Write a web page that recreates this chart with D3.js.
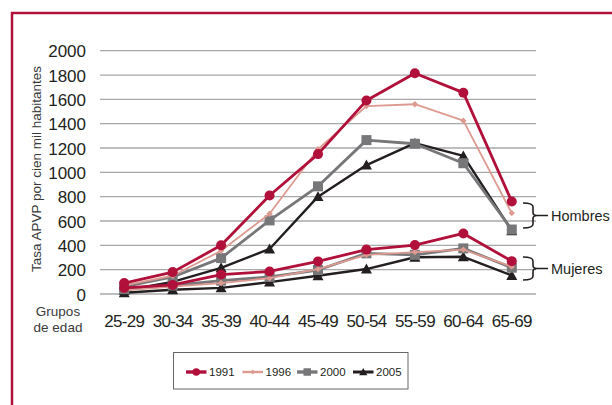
<!DOCTYPE html>
<html lang="es">
<head>
<meta charset="UTF-8">
<title>Tasa APVP por grupos de edad</title>
<script src="https://d3js.org/d3.v7.min.js"></script>
<style>
  body { margin: 0; background: #fff; }
  svg { display: block; font-family: "Liberation Sans", Arial, sans-serif; }
</style>
</head>
<body>
<svg width="612" height="405"></svg>
<script>
// --- data ---
const ageGroups = ["25-29", "30-34", "35-39", "40-44", "45-49", "50-54", "55-59", "60-64", "65-69"];
const yTicks = [0, 200, 400, 600, 800, 1000, 1200, 1400, 1600, 1800, 2000];
const years = ["1991", "1996", "2000", "2005"];

const men1991 = [90, 180, 400, 810, 1150, 1590, 1815, 1655, 760];
const men1996 = [70, 150, 355, 660, 1190, 1545, 1560, 1425, 665];
const men2000 = [60, 140, 295, 605, 885, 1265, 1235, 1075, 530];
const men2005 = [30, 100, 215, 370, 800, 1060, 1240, 1135, 520];

const women1991 = [50, 75, 160, 185, 268, 365, 402, 498, 270];
const women1996 = [30, 60, 90, 130, 205, 322, 345, 365, 225];
const women2000 = [40, 70, 110, 140, 197, 334, 322, 375, 216];
const women2005 = [10, 35, 50, 98, 150, 205, 302, 306, 152];

const svg = d3.select("svg");

// frame
svg.append("rect")
  .attr("x", 12).attr("y", 13)
  .attr("width", 640).attr("height", 420)
  .attr("fill", "none")
  .attr("stroke", "#b0103a")
  .attr("stroke-width", 2.5);

const plotLeft = 100, plotRight = 536, plotTop = 50.7, plotBottom = 294;

const x = d3.scaleBand().domain(ageGroups).range([plotLeft, plotRight]);
const y = d3.scaleLinear().domain([0, 2000]).range([plotBottom, plotTop]);
const cx = d => x(d) + x.bandwidth() / 2;

// gridlines
svg.append("g")
  .selectAll("line")
  .data(yTicks)
  .join("line")
  .attr("x1", plotLeft).attr("x2", plotRight)
  .attr("y1", d => y(d)).attr("y2", d => y(d))
  .attr("stroke", "#a8a8ab")
  .attr("stroke-width", 1.3);

// y axis labels
const yAxis = svg.append("g")
  .attr("transform", `translate(${plotLeft - 14},0)`)
  .call(d3.axisLeft(y).tickValues(yTicks).tickFormat(d3.format("d")).tickSize(0).tickPadding(0));
yAxis.select(".domain").remove();
yAxis.selectAll("text")
  .attr("font-size", 17)
  .attr("font-family", "Liberation Sans, Arial, sans-serif")
  .attr("fill", "#231f20")
  .attr("dy", "0.36em");

// x axis labels
const xAxis = svg.append("g")
  .attr("transform", `translate(0,${plotBottom})`)
  .call(d3.axisBottom(x).tickSize(0).tickPadding(0));
xAxis.select(".domain").remove();
xAxis.selectAll("text")
  .attr("font-size", 17)
  .attr("font-family", "Liberation Sans, Arial, sans-serif")
  .attr("fill", "#231f20")
  .attr("letter-spacing", "-0.7")
  .attr("y", 33)
  .attr("dy", 0);

// axis titles
svg.append("text")
  .attr("transform", `translate(41,169) rotate(-90)`)
  .attr("text-anchor", "middle")
  .attr("font-size", 13.5)
  .attr("fill", "#3a3a3a")
  .text("Tasa APVP por cien mil habitantes");

const grp = svg.append("text")
  .attr("text-anchor", "middle")
  .attr("font-size", 13.5)
  .attr("fill", "#3a3a3a");
grp.append("tspan").attr("x", 58).attr("y", 316).text("Grupos");
grp.append("tspan").attr("x", 58).attr("y", 332).text("de edad");

// series styles
const styles = {
  "1991": { color: "#b0103a", width: 2.8, marker: "circle", size: 5 },
  "1996": { color: "#dd9a90", width: 1.8, marker: "diamond", size: 3.2 },
  "2000": { color: "#77777a", width: 2.8, marker: "square", size: 5 },
  "2005": { color: "#231f20", width: 2.4, marker: "triangle", size: 5.5 }
};

const series = [
  { year: "1991", values: women1991 },
  { year: "1996", values: women1996 },
  { year: "2000", values: women2000 },
  { year: "2005", values: women2005 },
  { year: "1991", values: men1991 },
  { year: "1996", values: men1996 },
  { year: "2000", values: men2000 },
  { year: "2005", values: men2005 }
];

function drawMarker(g, type, size, color, px, py) {
  if (type === "circle") {
    g.append("circle").attr("cx", px).attr("cy", py).attr("r", size).attr("fill", color);
  } else if (type === "square") {
    g.append("rect").attr("x", px - size).attr("y", py - size)
      .attr("width", size * 2).attr("height", size * 2).attr("fill", color);
  } else if (type === "triangle") {
    g.append("path")
      .attr("d", `M${px},${py - size} L${px + size},${py + size * 0.8} L${px - size},${py + size * 0.8}Z`)
      .attr("fill", color);
  } else {
    g.append("path")
      .attr("d", `M${px},${py - size} L${px + size},${py} L${px},${py + size} L${px - size},${py}Z`)
      .attr("fill", color);
  }
}

const line = d3.line().x((d, i) => cx(ageGroups[i])).y(d => y(d));

const plot = svg.append("g");
// draw in reverse so 1991 ends on top
["2005", "2000", "1996", "1991"].forEach(yr => {
  series.filter(s => s.year === yr).forEach(s => {
    const st = styles[s.year];
    plot.append("path")
      .datum(s.values)
      .attr("d", line)
      .attr("fill", "none")
      .attr("stroke", st.color)
      .attr("stroke-width", st.width)
      .attr("stroke-linejoin", "round");
    s.values.forEach((v, i) => drawMarker(plot, st.marker, st.size, st.color, cx(ageGroups[i]), y(v)));
  });
});

// brackets
function bracket(y0, y1, label) {
  const g = svg.append("g").attr("fill", "none").attr("stroke", "#231f20").attr("stroke-width", 1.6);
  const xa = 523, xb = 533, mid = (y0 + y1) / 2;
  g.append("path")
    .attr("d", `M${xa},${y0} Q${xb},${y0} ${xb},${y0 + 4} L${xb},${mid - 3} Q${xb},${mid} ${xb + 4},${mid}` +
      ` L${xb + 15},${mid} M${xb + 4},${mid} Q${xb},${mid} ${xb},${mid + 3} L${xb},${y1 - 4} Q${xb},${y1} ${xa},${y1}`);
  svg.append("text")
    .attr("x", 551).attr("y", mid)
    .attr("dy", "0.36em")
    .attr("font-size", 14.5)
    .attr("fill", "#231f20")
    .text(label);
}
bracket(203, 228, "Hombres");
bracket(257, 280, "Mujeres");

// legend
const legend = svg.append("g");
legend.append("rect")
  .attr("x", 173.5).attr("y", 352.5)
  .attr("width", 234.5).attr("height", 36.5)
  .attr("fill", "#fff")
  .attr("stroke", "#666")
  .attr("stroke-width", 1);
const legendX = [186, 242.5, 297, 353];
years.forEach((yr, i) => {
  const st = styles[yr];
  const lx = legendX[i], ly = 372;
  legend.append("line")
    .attr("x1", lx).attr("x2", lx + 20.5)
    .attr("y1", ly).attr("y2", ly)
    .attr("stroke", st.color)
    .attr("stroke-width", st.width + 0.6);
  drawMarker(legend, st.marker, st.size * 0.75, st.color, lx + 10.25, ly);
  legend.append("text")
    .attr("x", lx + 23).attr("y", ly)
    .attr("dy", "0.36em")
    .attr("font-size", 11.5)
    .attr("fill", "#231f20")
    .text(yr);
});
</script>
</body>
</html>
